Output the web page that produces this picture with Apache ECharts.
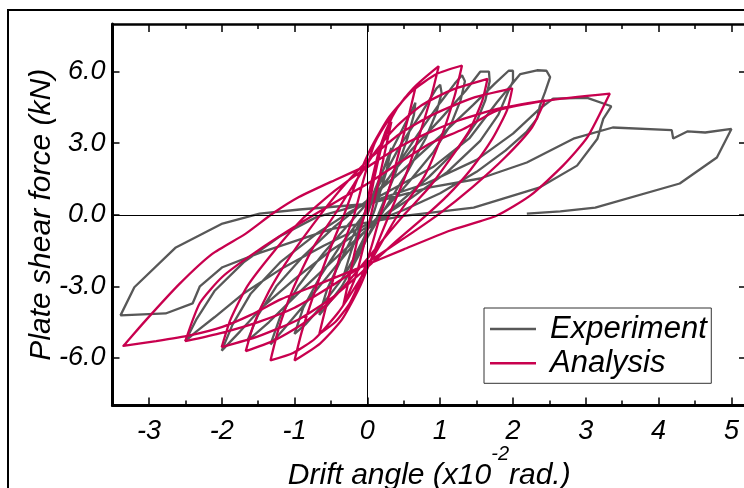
<!DOCTYPE html>
<html>
<head>
<meta charset="utf-8">
<script src="https://cdn.jsdelivr.net/npm/echarts@6/dist/echarts.min.js"></script>
<style>html,body{margin:0;padding:0;background:#fff}#c{width:744px;height:488px}</style>
</head>
<body>
<div id="c"></div>
<script>
const xMajorTicks = [-3, -2, -1, 0, 1, 2, 3, 4, 5];
const xMinorTicks = [-2.5, -1.5, -0.5, 0.5, 1.5, 2.5, 3.5, 4.5];
const yTicks = [-6, -3, 0, 3, 6];
const seriesNames = ['Experiment', 'Analysis'];

const experiment = [
[0,0],[0.10,0.90],[0.22,1.90],[0.33,2.80],[0.26,1.80],[0.10,0.20],[-0.05,-1.00],[-0.20,-1.90],[-0.33,-2.60],
[-0.22,-1.50],[-0.05,-0.10],[0.15,1.40],[0.35,2.80],[0.55,4.00],[0.66,4.70],[0.64,4.20],
[0.55,3.20],[0.38,1.70],[0.15,0.00],[-0.10,-1.60],[-0.35,-3.00],[-0.55,-3.80],[-0.66,-4.20],
[-0.55,-3.10],[-0.35,-1.80],[-0.10,-0.30],[0.15,1.20],[0.45,2.90],[0.75,4.30],[0.95,5.30],[1.00,5.45],[1.02,5.10],
[0.95,4.30],[0.80,3.20],[0.55,1.80],[0.25,0.30],[-0.05,-1.20],[-0.35,-2.70],[-0.65,-3.90],[-0.85,-4.60],[-1.00,-5.00],
[-0.88,-3.90],[-0.65,-2.60],[-0.35,-1.20],[0.00,0.20],[0.35,1.80],[0.70,3.40],[1.00,4.70],[1.20,5.50],[1.30,5.85],[1.34,5.60],
[1.28,4.80],[1.15,3.80],[0.90,2.60],[0.55,1.30],[0.20,0.10],[-0.15,-1.10],[-0.55,-2.60],[-0.90,-3.90],[-1.15,-4.80],[-1.33,-5.44],
[-1.20,-4.30],[-0.95,-3.00],[-0.60,-1.60],[-0.20,-0.20],[0.20,1.20],[0.60,2.70],[1.00,4.00],[1.35,5.20],[1.55,6.00],[1.67,6.00],[1.68,5.60],
[1.62,4.80],[1.50,3.90],[1.25,2.80],[0.85,1.60],[0.40,0.40],[0.00,-0.60],[-0.50,-2.00],[-0.95,-3.30],[-1.35,-4.50],[-1.65,-5.30],
[-1.50,-4.20],[-1.25,-3.00],[-0.90,-1.80],[-0.45,-0.50],[0.00,0.60],[0.50,1.90],[1.00,3.30],[1.45,4.60],[1.75,5.50],[1.94,6.04],[2.00,6.04],[2.00,5.60],
[1.93,5.14],[1.80,4.20],[1.55,3.10],[1.10,1.80],[0.60,0.70],[0.10,-0.30],[-0.50,-1.50],[-1.00,-2.70],[-1.45,-3.90],[-1.75,-4.90],[-2.00,-5.70],
[-1.85,-4.60],[-1.60,-3.30],[-1.20,-2.00],[-0.70,-0.80],[-0.25,0.10],[0.30,1.00],[0.90,2.00],[1.40,3.20],[1.78,4.72],[2.10,5.90],[2.33,6.06],[2.46,6.04],[2.51,5.77],
[2.44,5.14],[2.37,4.58],[2.33,4.03],[2.19,3.49],[1.90,2.70],[1.50,1.80],[1.00,0.90],[0.50,0.20],[0.00,-0.40],[-0.60,-1.30],[-1.20,-2.30],[-1.70,-3.30],[-2.10,-4.30],[-2.35,-4.90],[-2.50,-5.30],
[-2.35,-4.40],[-2.10,-3.20],[-1.70,-2.00],[-1.20,-0.90],[-0.70,-0.10],[0.00,0.50],[0.80,1.30],[1.50,2.30],[2.00,3.40],[2.35,4.40],[2.55,4.87],[3.02,4.90],[3.35,4.55],
[3.24,4.02],[3.16,3.19],[2.88,2.06],[2.37,1.15],[1.46,0.30],[0.50,-0.05],[-0.50,-0.60],[-1.48,-1.60],[-1.99,-2.20],[-2.30,-3.00],[-2.40,-3.72],[-2.77,-4.14],[-3.39,-4.22],
[-3.20,-3.04],[-2.63,-1.37],[-1.99,-0.37],[-1.48,0.05],[-0.93,0.22],[0.00,0.45],[0.86,1.15],[1.55,1.52],[2.19,2.19],[2.83,3.19],[3.37,3.66],[4.18,3.55],[4.20,3.20],[4.40,3.50],[4.64,3.45],[5.00,3.60],
[4.80,2.40],[4.29,1.31],[3.13,0.30],[2.65,0.14],[2.19,0.05]
];

const analysis = [
[0,0],[0.10,1.60],[0.20,2.90],[0.33,3.90],
[0.26,2.90],[0.14,1.20],[0.05,0.00],[-0.05,-1.30],[-0.16,-2.60],[-0.33,-3.80],
[-0.26,-2.80],[-0.14,-1.10],[-0.04,0.00],
[0.05,1.30],[0.18,2.90],[0.34,4.10],[0.50,4.85],[0.66,5.33],
[0.58,4.30],[0.45,2.80],[0.30,1.10],[0.18,0.00],[0.06,-1.30],[-0.08,-2.60],[-0.24,-3.70],[-0.44,-4.50],[-0.66,-5.00],
[-0.58,-4.00],[-0.45,-2.50],[-0.30,-1.00],[-0.18,0.00],
[-0.05,1.50],[0.10,3.00],[0.32,4.10],[0.63,5.30],[0.98,6.23],
[0.88,5.00],[0.72,3.40],[0.52,1.60],[0.30,0.00],[0.10,-1.50],[-0.10,-3.00],[-0.35,-4.40],[-0.65,-5.40],[-1.00,-6.11],
[-0.90,-4.90],[-0.72,-3.20],[-0.52,-1.50],[-0.32,0.00],
[-0.15,1.40],[0.05,2.80],[0.30,4.10],[0.62,5.20],[0.95,5.90],[1.30,6.26],
[1.20,5.00],[1.02,3.30],[0.78,1.60],[0.42,0.00],[0.15,-1.40],[-0.12,-2.80],[-0.40,-4.10],[-0.72,-5.20],[-1.02,-5.80],[-1.33,-6.11],
[-1.22,-4.80],[-1.02,-3.10],[-0.75,-1.40],[-0.45,0.00],
[-0.18,1.30],[0.10,2.60],[0.40,3.70],[0.75,4.60],[1.17,5.25],[1.65,5.70],
[1.58,4.80],[1.40,3.53],[1.12,2.27],[0.85,1.15],[0.52,0.05],[0.20,-1.10],[-0.15,-2.40],[-0.50,-3.60],[-0.90,-4.60],[-1.30,-5.30],[-1.67,-5.72],
[-1.56,-4.60],[-1.35,-3.20],[-1.05,-1.70],[-0.62,0.10],
[-0.30,1.30],[0.05,2.40],[0.45,3.40],[0.90,4.20],[1.45,4.90],[1.99,5.30],
[1.92,4.40],[1.72,3.20],[1.42,1.90],[1.10,0.80],[0.78,-0.10],[0.40,-1.10],[0.00,-2.20],[-0.45,-3.40],[-0.95,-4.40],[-1.50,-5.10],[-2.00,-5.55],
[-1.88,-4.40],[-1.65,-3.00],[-1.30,-1.60],[-0.90,-0.20],[-0.45,1.00],[0.05,2.10],[0.60,3.10],[1.20,3.90],[1.80,4.45],[2.44,4.80],
[2.26,3.66],[1.89,2.40],[1.44,1.15],[0.99,0.05],[0.52,-0.95],[0.00,-2.00],[-0.50,-3.00],[-1.00,-3.90],[-1.50,-4.50],[-2.00,-4.95],[-2.50,-5.30],
[-2.30,-3.70],[-1.99,-2.60],[-1.55,-1.60],[-0.93,-0.37],[-0.40,0.60],[0.00,1.30],[0.45,2.20],[0.86,2.99],[1.32,3.60],[1.78,4.37],[2.47,4.79],[3.33,5.08],
[3.02,3.24],[2.69,2.07],[2.24,0.81],[1.78,-0.03],[1.14,-0.66],[0.50,-1.45],[-0.14,-2.26],[-0.70,-2.95],[-1.19,-3.55],[-1.60,-4.20],[-1.99,-4.70],[-2.44,-5.06],[-2.90,-5.30],[-3.35,-5.50],
[-3.05,-4.45],[-2.58,-2.90],[-2.13,-1.64],[-1.67,-0.79],[-1.30,0.05],[-0.94,0.74],[-0.45,1.45],[0.00,2.07]
];

const FONT = "'Liberation Sans', Arial, sans-serif";
const GRAY = '#585858';
const RED = '#C8004E';
const xMin = -3.5, xMax = 5.2, yMin = -8, yMax = 8;

function xAx(pos, ticks, len, lineW, labels, extra) {
  return Object.assign({
    type: 'value', position: pos, min: xMin, max: xMax,
    splitLine: {show: false},
    axisLine: {show: lineW > 0, onZero: false, lineStyle: {color: '#000', width: lineW || 1}},
    axisTick: {show: true, inside: true, length: len, customValues: ticks, lineStyle: {color: '#000', width: 1.5}},
    axisLabel: labels ? {show: true, customValues: ticks, margin: 12, fontSize: 27, fontStyle: 'italic', fontFamily: FONT, color: '#000'} : {show: false}
  }, extra || {});
}

const chart = echarts.init(document.getElementById('c'), null, {renderer: 'canvas'});
chart.setOption({
  animation: false,
  backgroundColor: '#fff',
  graphic: [{type: 'rect', silent: true, z: -10,
    shape: {x: 8, y: 10, width: 900, height: 900},
    style: {fill: 'none', stroke: '#000', lineWidth: 2}}],
  grid: {left: 112.5, top: 24, right: -2, bottom: 82.5, containLabel: false, outerBoundsMode: 'none'},
  legend: {
    data: seriesNames.map(n => ({name: n, icon: 'rect'})),
    orient: 'vertical', left: 484, top: 308,
    itemWidth: 46, itemHeight: 2.5, itemGap: 3.3,
    padding: [5.5, 4.5, 4.5, 6],
    borderColor: '#333', borderWidth: 1, backgroundColor: '#fff',
    textStyle: {fontSize: 31, fontStyle: 'italic', fontFamily: FONT, color: '#000', padding: [0, 0, 0, 9]}
  },
  xAxis: [
    xAx('bottom', xMajorTicks, 8, 3, true, {
      name: '{a|Drift angle (x10}{s|-2}{a|rad.)}',
      nameLocation: 'middle', nameGap: 39, nameMoveOverlap: false,
      nameTextStyle: {fontSize: 30, fontStyle: 'italic', fontFamily: FONT, color: '#000',
        rich: {
          a: {fontSize: 30, fontStyle: 'italic', fontFamily: FONT, color: '#000'},
          s: {fontSize: 20, fontStyle: 'italic', fontFamily: FONT, color: '#000', padding: [0, 0, 42, 0], verticalAlign: 'top'}
        }}
    }),
    xAx('bottom', xMinorTicks, 5, 0, false),
    xAx('top', xMajorTicks, 8, 2.5, false),
    xAx('top', xMinorTicks, 5, 0, false)
  ],
  yAxis: [
    {type: 'value', position: 'left', min: yMin, max: yMax,
     splitLine: {show: false},
     axisLine: {show: true, onZero: false, lineStyle: {color: '#000', width: 3}},
     axisTick: {show: true, inside: true, length: 7, customValues: yTicks, lineStyle: {color: '#000', width: 1.5}},
     axisLabel: {show: true, customValues: yTicks, margin: 7, fontSize: 27, fontStyle: 'italic', fontFamily: FONT, color: '#000',
       formatter: v => v.toFixed(1)},
     name: 'Plate shear force (kN)', nameLocation: 'middle', nameGap: 56, nameMoveOverlap: false,
     nameTextStyle: {fontSize: 30, fontStyle: 'italic', fontFamily: FONT, color: '#000'}},
    {type: 'value', position: 'right', min: yMin, max: yMax,
     splitLine: {show: false},
     axisLine: {show: true, onZero: false, lineStyle: {color: '#000', width: 2.5}},
     axisTick: {show: true, inside: true, length: 7, customValues: yTicks, lineStyle: {color: '#000', width: 1.5}},
     axisLabel: {show: false}}
  ],
  series: [
    {name: seriesNames[0], type: 'line', xAxisIndex: 0, yAxisIndex: 0, data: experiment,
     showSymbol: false, symbol: 'none', smooth: false, color: GRAY,
     lineStyle: {color: GRAY, width: 2.3}, z: 2,
     markLine: {silent: true, symbol: ['none', 'none'], label: {show: false}, animation: false,
       lineStyle: {color: '#000', width: 1, type: 'solid'},
       emphasis: {disabled: true},
       data: [{yAxis: 0}, {xAxis: 0}]}},
    {name: seriesNames[1], type: 'line', xAxisIndex: 0, yAxisIndex: 0, data: analysis,
     showSymbol: false, symbol: 'none', smooth: 0.2, color: RED,
     lineStyle: {color: RED, width: 2.3}, z: 3}
  ]
});
</script>
</body>
</html>
